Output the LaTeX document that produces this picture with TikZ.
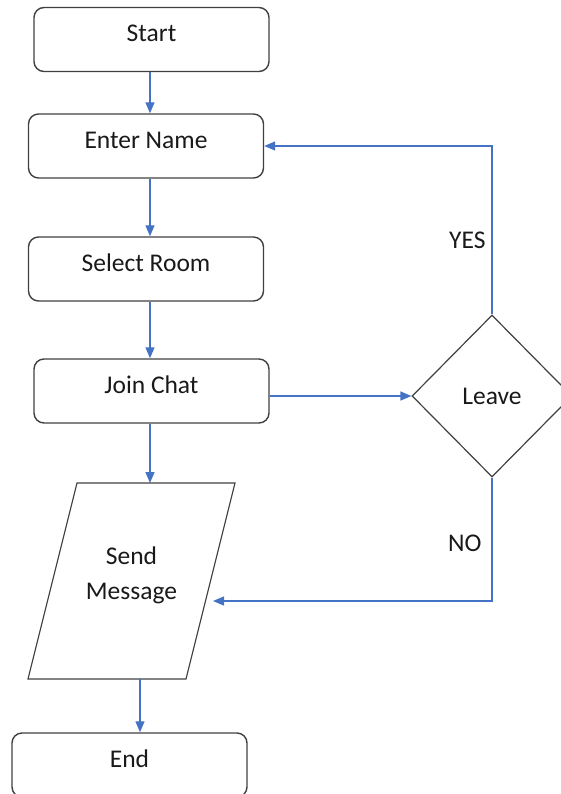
\documentclass[tikz,border=0pt]{standalone}
\usepackage{fontspec}
\setmainfont{Carlito}
\usetikzlibrary{arrows.meta}
\usetikzlibrary{shapes.geometric}
\definecolor{boxgray}{HTML}{404040}
\definecolor{flowblue}{HTML}{4472C4}

\begin{document}
\begin{tikzpicture}[x=1pt, y=-1pt,
  every node/.style={text=black!90, font=\fontsize{25.5}{35}\selectfont},
  box/.style={draw=boxgray, line width=1.4pt, rounded corners=10pt, minimum width=235pt, minimum height=64pt, text depth=12pt},
  decision/.style={draw=boxgray, line width=1.2pt, diamond, minimum width=160pt, minimum height=162pt, inner sep=0pt},
  flow/.style={draw=flowblue, line width=1.3pt, -{Triangle[length=11pt,width=9pt]}}]
  \useasboundingbox (0,0) rectangle (561,794);
  % steps
  \node[box] (start) at (151.5,39.5) {Start};
  \node[box] (enter) at (146,146) {Enter Name};
  \node[box] (select) at (146,269) {Select Room};
  \node[box] (join) at (151.5,391) {Join Chat};
  \node[box] (finish) at (129.5,765) {End};
  \node[decision] (leave) at (492,396) {Leave};
  % send message (parallelogram)
  \coordinate (sendtl) at (77,483);
  \coordinate (sendtr) at (235,483);
  \coordinate (sendbr) at (186,679);
  \coordinate (sendbl) at (28,679);
  \draw[boxgray, line width=1.2pt] (sendtl) -- (sendtr) -- (sendbr) -- (sendbl) -- cycle;
  \node[align=center, text depth=16pt] (send) at (131.5,581) {Send\\Message};
  % answers
  \node[anchor=east] (yes) at (489,240) {YES};
  \node[anchor=east] (no) at (485,543) {NO};
  % main line
  \coordinate (spine) at (150,0);
  \coordinate (sendout) at (140,679);
  \coordinate (sendin) at (213,601);
  \draw[flow] (start.south -| spine) -- (enter.north -| spine);
  \draw[flow] (enter.south -| spine) -- (select.north -| spine);
  \draw[flow] (select.south -| spine) -- (join.north -| spine);
  \draw[flow] (join.south -| spine) -- (sendtl -| spine);
  \draw[flow] (sendout) -- (sendout |- finish.north);
  % loop through the decision
  \draw[flow] (join.east |- leave.west) -- (leave.west);
  \draw[flow] (leave.north) |- (enter.east);
  \draw[flow] (leave.south) |- (sendin);
\end{tikzpicture}
\end{document}
